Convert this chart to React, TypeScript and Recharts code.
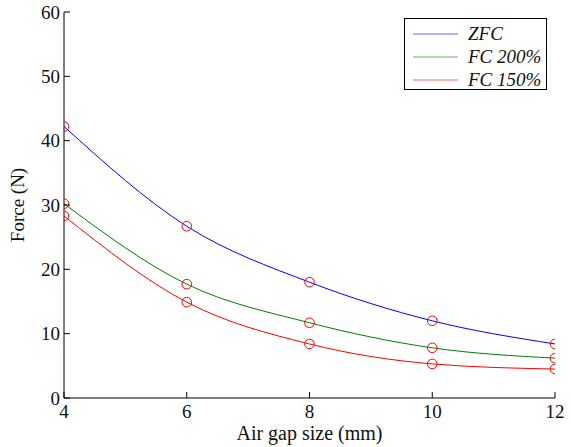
import { ComposedChart, Line, XAxis, YAxis, Legend } from "recharts";

const gaps = [4, 6, 8, 10, 12];
const zfc = [42.2, 26.7, 18.0, 12.0, 8.4];
const fc200 = [30.2, 17.7, 11.7, 7.8, 6.2];
const fc150 = [28.3, 14.9, 8.4, 5.3, 4.5];
const yTicks = [0, 10, 20, 30, 40, 50, 60];

const series = [
  { key: "zfc", name: "ZFC", color: "#0000ff" },
  { key: "fc200", name: "FC 200%", color: "#008000" },
  { key: "fc150", name: "FC 150%", color: "#ff0000" },
];

const data = gaps.map((g, i) => ({ gap: g, zfc: zfc[i], fc200: fc200[i], fc150: fc150[i] }));

const FONT = "'Liberation Serif', 'Times New Roman', serif";
const TICK = 6;

function LeftTick(props: any) {
  const { x, y, payload } = props;
  return (
    <g>
      <line x1={x + 6} x2={x + 6 + TICK} y1={y} y2={y} stroke="#000" />
      <text x={x + 2} y={y} dy="0.35em" textAnchor="end" fontSize={19} fontFamily={FONT} fill="#111">
        {payload.value}
      </text>
    </g>
  );
}

function BottomTick(props: any) {
  const { x, y, payload } = props;
  return (
    <g>
      <line x1={x} x2={x} y1={y - 6} y2={y - 6 - TICK} stroke="#000" />
      <text x={x} y={y - 1} dy="0.78em" textAnchor="middle" fontSize={19} fontFamily={FONT} fill="#111">
        {payload.value}
      </text>
    </g>
  );
}

function TopTick(props: any) {
  const { x, y } = props;
  return <line x1={x} x2={x} y1={y} y2={y + TICK} stroke="#000" />;
}

function RightTick(props: any) {
  const { x, y } = props;
  return <line x1={x} x2={x - TICK} y1={y} y2={y} stroke="#000" />;
}

function Marker(props: any) {
  const { cx, cy, index } = props;
  if (cx == null || cy == null) return <g key={index} />;
  return <circle key={index} cx={cx} cy={cy} r={4.8} fill="none" stroke="#ff0000" strokeWidth={1} />;
}

function LegendBox() {
  return (
    <div
      style={{
        border: "1px solid #000",
        background: "#fff",
        width: 143,
        height: 72,
        boxSizing: "border-box",
        paddingTop: 3,
      }}
    >
      {series.map((s) => (
        <div key={s.key} style={{ display: "flex", alignItems: "center", height: 23 }}>
          <svg width={54} height={10} style={{ flex: "none" }}>
            <line x1={8} x2={53} y1={5} y2={5} stroke={s.color} strokeOpacity={0.6} strokeWidth={1.2} />
          </svg>
          <span
            style={{
              marginLeft: 9,
              fontFamily: FONT,
              fontStyle: "italic",
              fontSize: 19,
              color: "#111",
              whiteSpace: "nowrap",
            }}
          >
            {s.name}
          </span>
        </div>
      ))}
    </div>
  );
}

export default function App() {
  return (
    <div style={{ position: "absolute", left: 0, top: 0, width: 571, height: 447, background: "#fff" }}>
      <ComposedChart width={571} height={447} data={data} margin={{ top: 12, right: 16, left: 0, bottom: 0 }}>
        <XAxis
          dataKey="gap"
          type="number"
          domain={[4, 12]}
          ticks={gaps}
          allowDataOverflow
          height={49}
          tickSize={0}
          tickMargin={6}
          tick={<BottomTick />}
          axisLine={{ stroke: "#000" }}
          label={{ value: "Air gap size (mm)", position: "insideBottom", offset: 7, fontSize: 20, fontFamily: FONT, fill: "#111" }}
        />
        <XAxis
          xAxisId="top"
          orientation="top"
          dataKey="gap"
          type="number"
          domain={[4, 12]}
          ticks={gaps}
          allowDataOverflow
          height={0}
          tickSize={0}
          tickMargin={0}
          tick={<TopTick />}
          axisLine={{ stroke: "#000" }}
        />
        <YAxis
          type="number"
          domain={[0, 60]}
          ticks={yTicks}
          allowDataOverflow
          width={64}
          tickSize={0}
          tickMargin={6}
          tick={<LeftTick />}
          axisLine={{ stroke: "#000" }}
          label={{ value: "Force (N)", angle: -90, position: "insideLeft", offset: 17, fontSize: 19, fontFamily: FONT, fill: "#111", style: { textAnchor: "middle" } }}
        />
        <YAxis
          yAxisId="right"
          orientation="right"
          type="number"
          domain={[0, 60]}
          ticks={yTicks}
          allowDataOverflow
          width={0}
          tickSize={0}
          tickMargin={0}
          tick={<RightTick />}
          axisLine={{ stroke: "#000" }}
        />
        <Legend
          layout="vertical"
          align="center"
          verticalAlign="middle"
          content={<LegendBox />}
          wrapperStyle={{ left: 404, top: 18, width: "auto", height: "auto" }}
        />
        {series.map((s) => (
          <Line
            key={s.key}
            dataKey={s.key}
            name={s.name}
            type="monotone"
            stroke={s.color}
            strokeWidth={1}
            dot={Marker}
            activeDot={false}
            isAnimationActive={false}
          />
        ))}
      </ComposedChart>
    </div>
  );
}
